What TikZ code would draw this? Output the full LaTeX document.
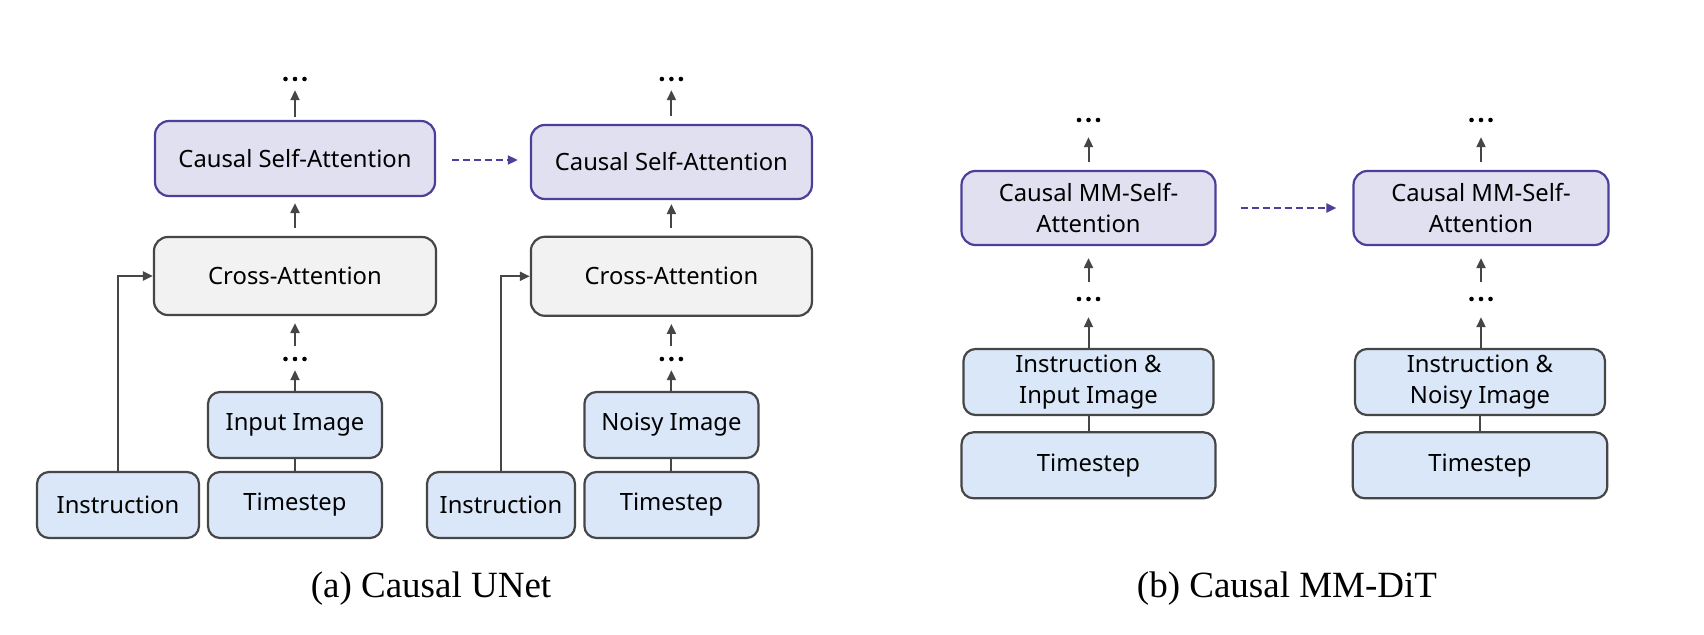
\documentclass[tikz,border=0pt]{standalone}
\usepackage{fontspec}
\setmainfont{Liberation Serif}
\newfontfamily\boxfont{Noto Sans}
\usetikzlibrary{arrows.meta}
\definecolor{lavfill}{HTML}{E1E0F0}
\definecolor{purp}{HTML}{4B3F99}
\definecolor{grayfill}{HTML}{F2F2F2}
\definecolor{bluefill}{HTML}{DAE7F8}
\definecolor{lineg}{HTML}{464646}
\begin{document}
\begin{tikzpicture}[x=1pt,y=-1pt,
  box/.style={draw=lineg, line width=2.2pt, rounded corners=12pt, inner sep=0pt, align=center,
    font=\boxfont\fontsize{23.8}{30.5}\selectfont, text=black},
  sa/.style={box, fill=lavfill, draw=purp, rounded corners=14pt},
  crossbox/.style={box, fill=grayfill, rounded corners=14pt},
  inp/.style={box, fill=bluefill},
  arr/.style={draw=lineg, line width=2pt, -{Triangle[length=10pt,width=9pt]}},
  link/.style={draw=lineg, line width=2pt},
  dasharr/.style={draw=purp, line width=2pt, dash pattern=on 7pt off 4pt, -{Triangle[length=10pt,width=9pt]}},
  dots/.style={minimum width=30pt, minimum height=22pt, inner sep=0pt,
    path picture={\foreach \dx in {-9.5,0,9.5} \fill[black] ([xshift=\dx pt]path picture bounding box.center) circle (2.3pt);}},
  captext/.style={font=\fontsize{37}{44}\selectfont, inner sep=0pt, anchor=base}
]
\fill[white] (0,0) rectangle (1704,634);
\useasboundingbox (0,0) rectangle (1704,634);

% ---------- (a) left column ----------
\node[sa, minimum width=280pt, minimum height=75pt] (csa1) at (295,158.5) {Causal Self-Attention};
\node[crossbox, minimum width=282pt, minimum height=78pt] (ca1) at (295,276) {Cross-Attention};
\node[inp, minimum width=174pt, minimum height=66pt] (img1) at (295,425) {Input Image};
\node[inp, minimum width=174pt, minimum height=66pt] (ts1) at (295,505) {Timestep};
\node[inp, minimum width=162pt, minimum height=66pt] (ins1) at (118,505) {Instruction};
\node[dots] (dt1) at (295,79) {};
\node[dots] (dm1) at (295,359) {};

\draw[arr, shorten <=3pt] (csa1.north) -- (dt1.south);
\draw[arr, shorten <=8pt, shorten >=6pt] (ca1.north) -- (csa1.south);
\draw[arr, shorten <=2pt, shorten >=7pt] (dm1.north) -- (ca1.south);
\draw[arr] (img1.north) -- (dm1.south);
\draw[link] (img1.south) -- (ts1.north);
\draw[arr] (ins1.north) |- (ca1.west);

% ---------- (a) right column ----------
\node[sa, minimum width=281pt, minimum height=74pt] (csa2) at (671.4,162) {Causal Self-Attention};
\node[crossbox, minimum width=281pt, minimum height=79pt] (ca2) at (671.4,276.3) {Cross-Attention};
\node[inp, minimum width=174pt, minimum height=66pt] (img2) at (671.4,425) {Noisy Image};
\node[inp, minimum width=174pt, minimum height=66pt] (ts2) at (671.4,505) {Timestep};
\node[inp, minimum width=148pt, minimum height=66pt] (ins2) at (501,505) {Instruction};
\node[dots] (dt2) at (671.4,79) {};
\node[dots] (dm2) at (671.4,359) {};

\draw[arr, shorten <=8pt] (csa2.north) -- (dt2.south);
\draw[arr, shorten <=8pt, shorten >=4pt] (ca2.north) -- (csa2.south);
\draw[arr, shorten <=2pt, shorten >=7pt] (dm2.north) -- (ca2.south);
\draw[arr] (img2.north) -- (dm2.south);
\draw[link] (img2.south) -- (ts2.north);
\draw[arr] (ins2.north) |- (ca2.west);

\draw[dasharr, shorten <=16pt, shorten >=12pt] (csa1.east |- 0,160) -- (csa2.west |- 0,160);

% ---------- (b) left column ----------
\node[sa, minimum width=254pt, minimum height=74pt] (mm1) at (1088.5,208) {Causal MM-Self-\\Attention};
\node[inp, minimum width=250pt, minimum height=66pt] (ii1) at (1088.5,382) {Instruction \&\\Input Image};
\node[inp, minimum width=254pt, minimum height=66pt] (tb1) at (1088.5,465.3) {Timestep};
\node[dots] (dt3) at (1088.5,120) {};
\node[dots] (dm3) at (1088.5,299) {};

\draw[arr, shorten <=8pt, shorten >=6pt] (mm1.north) -- (dt3.south);
\draw[arr, shorten <=6pt, shorten >=12pt] (dm3.north) -- (mm1.south);
\draw[arr, shorten >=7pt] (ii1.north) -- (dm3.south);
\draw[link] (ii1.south) -- (tb1.north);

% ---------- (b) right column ----------
\node[sa, minimum width=255pt, minimum height=74pt] (mm2) at (1481,208) {Causal MM-Self-\\Attention};
\node[inp, minimum width=250pt, minimum height=66pt] (ii2) at (1480,382) {Instruction \&\\Noisy Image};
\node[inp, minimum width=254.6pt, minimum height=66pt] (tb2) at (1480,465.3) {Timestep};
\node[dots] (dt4) at (1481,120) {};
\node[dots] (dm4) at (1481,299) {};

\draw[arr, shorten <=8pt, shorten >=6pt] (mm2.north) -- (dt4.south);
\draw[arr, shorten <=6pt, shorten >=12pt] (dm4.north) -- (mm2.south);
\draw[arr, shorten >=7pt] (ii2.north -| dm4.south) -- (dm4.south);
\draw[link] (ii2.south) -- (tb2.north);

\draw[dasharr, shorten <=24pt, shorten >=16pt] (mm1.east) -- (mm2.west);

% ---------- captions ----------
\node[captext] (capa) at (431,597) {(a) Causal UNet};
\node[captext] (capb) at (1287,597) {(b) Causal MM-DiT};
\end{tikzpicture}
\end{document}
